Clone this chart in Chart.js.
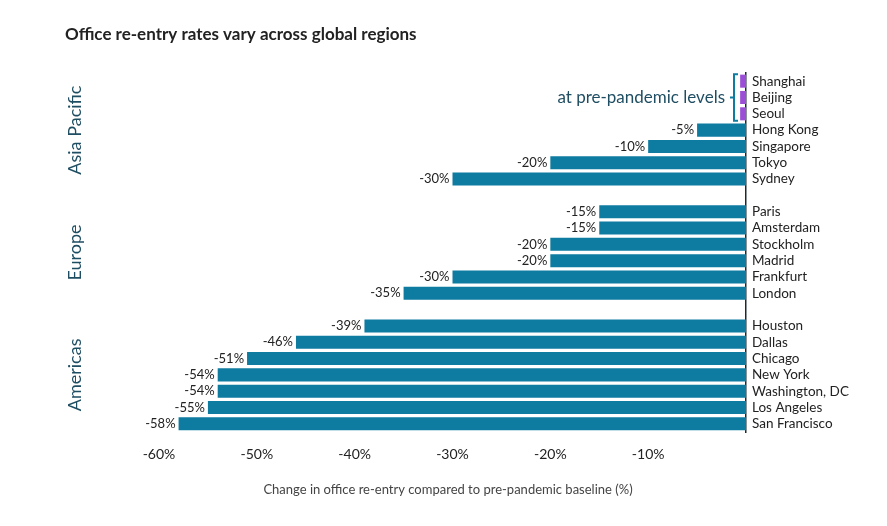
<!DOCTYPE html>
<html>
<head>
<meta charset="utf-8">
<script src="https://cdn.jsdelivr.net/npm/chart.js@4"></script>
<style>
  html, body { margin: 0; padding: 0; background: #fff; }
  #wrap { width: 887px; height: 526px; }
</style>
</head>
<body>
<div id="wrap"><canvas id="reentryChart" width="887" height="526"></canvas></div>
<script>
// rows, top to bottom ("" = spacer between regions)
const cities = ["Shanghai", "Beijing", "Seoul", "Hong Kong", "Singapore", "Tokyo", "Sydney", "",
  "Paris", "Amsterdam", "Stockholm", "Madrid", "Frankfurt", "London", "",
  "Houston", "Dallas", "Chicago", "New York", "Washington, DC", "Los Angeles", "San Francisco"];
const changes = [null, null, null, -5, -10, -20, -30, null,
  -15, -15, -20, -20, -30, -35, null,
  -39, -46, -51, -54, -54, -55, -58];
// cities at pre-pandemic levels (0%), drawn as a thin marker
const baselineMarks = [-0.6, -0.6, -0.6, null, null, null, null, null,
  null, null, null, null, null, null, null,
  null, null, null, null, null, null, null];
const regions = [
  { name: "Asia Pacific", from: "Shanghai", to: "Sydney" },
  { name: "Europe", from: "Paris", to: "London" },
  { name: "Americas", from: "Houston", to: "San Francisco" }
];
const xTicks = [-60, -50, -40, -30, -20, -10];

const FONT = "Lato, 'Source Sans Pro', sans-serif";
const TEAL = "#0e7ba0";
const DARK = "#1f4e63";

const extras = {
  id: "extras",
  afterDraw(chart) {
    const ctx = chart.ctx;
    const x = chart.scales.x, y = chart.scales.y;
    ctx.save();

    // title
    ctx.fillStyle = "#222";
    ctx.font = "bold 17px " + FONT;
    ctx.textAlign = "left";
    ctx.textBaseline = "middle";
    ctx.fillText("Office re-entry rates vary across global regions", 65, 35);

    // value labels
    ctx.font = "13px " + FONT;
    ctx.fillStyle = "#222";
    ctx.textAlign = "right";
    changes.forEach((v, i) => {
      if (v === null) return;
      ctx.fillText(v + "%", x.getPixelForValue(v) - 3, y.getPixelForValue(i));
    });

    // region labels
    ctx.fillStyle = DARK;
    ctx.font = "18px " + FONT;
    ctx.textAlign = "center";
    regions.forEach(r => {
      const y1 = y.getPixelForValue(cities.indexOf(r.from));
      const y2 = y.getPixelForValue(cities.indexOf(r.to));
      ctx.save();
      ctx.translate(75, (y1 + y2) / 2);
      ctx.rotate(-Math.PI / 2);
      ctx.fillText(r.name, 0, 0);
      ctx.restore();
    });

    // bracket + note
    const b1 = y.getPixelForValue(0) - 7, b2 = y.getPixelForValue(2) + 7;
    const bx = x.getPixelForValue(0) - 12;
    ctx.strokeStyle = TEAL;
    ctx.lineWidth = 2;
    ctx.beginPath();
    ctx.moveTo(bx + 4, b1);
    ctx.lineTo(bx, b1);
    ctx.lineTo(bx, b2);
    ctx.lineTo(bx + 4, b2);
    ctx.moveTo(bx, (b1 + b2) / 2);
    ctx.lineTo(bx - 4, (b1 + b2) / 2);
    ctx.stroke();
    ctx.fillStyle = DARK;
    ctx.font = "17px " + FONT;
    ctx.textAlign = "right";
    ctx.fillText("at pre-pandemic levels", bx - 9, (b1 + b2) / 2);

    // x title
    ctx.fillStyle = "#444";
    ctx.font = "13px " + FONT;
    ctx.textAlign = "center";
    ctx.fillText("Change in office re-entry compared to pre-pandemic baseline (%)", 448, 490);
    ctx.restore();
  }
};

new Chart(document.getElementById("reentryChart"), {
  type: "bar",
  data: {
    labels: cities,
    datasets: [
      { data: changes, backgroundColor: TEAL, barPercentage: 0.8, categoryPercentage: 1 },
      { data: baselineMarks, backgroundColor: "#9b4fd6", barPercentage: 0.8, categoryPercentage: 1 }
    ]
  },
  options: {
    indexAxis: "y",
    responsive: false,
    animation: false,
    layout: { padding: { left: 159, top: 73, right: 0, bottom: 0 } },
    plugins: { legend: { display: false }, tooltip: { enabled: false } },
    scales: {
      x: {
        min: -60, max: 0,
        stacked: true,
        afterBuildTicks: s => { s.ticks = xTicks.map(v => ({ value: v })); },
        afterFit: s => { s.height = 94; },
        grid: { display: false, drawTicks: false },
        border: { display: false },
        ticks: { color: "#222", font: { family: FONT, size: 14 }, padding: 14, callback: v => v + "%" }
      },
      y: {
        position: "right",
        stacked: true,
        afterFit: s => { s.width = 141; },
        grid: { display: false, drawTicks: false },
        border: { display: true, color: "#1a2a33", width: 1.5 },
        ticks: { color: "#222", font: { family: FONT, size: 13.5 }, padding: 6, autoSkip: false }
      }
    }
  },
  plugins: [extras]
});
</script>
</body>
</html>
